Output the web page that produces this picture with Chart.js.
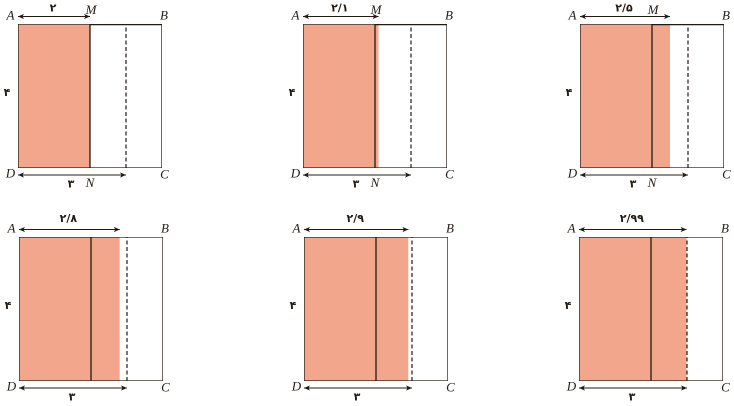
<!DOCTYPE html>
<html>
<head>
<meta charset="utf-8">
<script src="https://cdn.jsdelivr.net/npm/chart.js@4.4.1/dist/chart.umd.min.js"></script>
<style>
  html, body { margin: 0; padding: 0; background: #fff; }
  body { width: 734px; height: 406px; position: relative; overflow: hidden; }
  canvas { position: absolute; }
</style>
</head>
<body>
<script>
// widths of the shaded part (AM) in each panel
const shadedWidths = [2, 2.1, 2.5, 2.8, 2.9, 2.99];
const widthLabels = ["۲", "۲/۱", "۲/۵", "۲/۸", "۲/۹", "۲/۹۹"];
const sideValue = 4;          // AD = AB
const splitValue = 2;         // solid line
const dashedValue = 3;        // DN
const sideLabel = "۴";
const bottomLabel = "۳";
const cornerNames = ["A", "B", "C", "D"];
const showMN = [true, true, true, false, false, false];

const FILL = "#F2A78C";
const INK = "#231a13";
const PAD = { left: 16, right: 20, top: 24, bottom: 30 };
const SIZE = 144;

// top-left corner of each square on the page
const rectCorners = [
  [17.5, 24.3], [302.5, 24.3], [579.5, 24.3],
  [18.5, 237.3], [303.5, 237.3], [578.5, 236.8]
];

function arrow(ctx, x1, x2, y) {
  ctx.beginPath();
  ctx.moveTo(x1, y);
  ctx.lineTo(x2, y);
  ctx.stroke();
  const h = 6, w = 2.6;
  ctx.beginPath();
  ctx.moveTo(x1, y); ctx.lineTo(x1 + h, y - w); ctx.lineTo(x1 + h - 1.5, y); ctx.lineTo(x1 + h, y + w); ctx.closePath();
  ctx.moveTo(x2, y); ctx.lineTo(x2 - h, y - w); ctx.lineTo(x2 - h + 1.5, y); ctx.lineTo(x2 - h, y + w); ctx.closePath();
  ctx.fill();
}

const annotate = {
  id: "annotate",
  afterDatasetsDraw(chart, args, opts) {
    const { ctx, scales: { x, y } } = chart;
    const i = opts.index;
    const left = x.getPixelForValue(0), right = x.getPixelForValue(sideValue);
    const top = y.getPixelForValue(sideValue), bottom = y.getPixelForValue(0);
    const split = x.getPixelForValue(splitValue);
    ctx.save();
    ctx.fillStyle = INK;
    ctx.strokeStyle = INK;
    ctx.lineWidth = 1;
    arrow(ctx, left, x.getPixelForValue(shadedWidths[i]), top - 7.5);
    arrow(ctx, left, x.getPixelForValue(dashedValue), bottom + 7);

    ctx.textAlign = "center";
    ctx.textBaseline = "middle";
    ctx.font = 'italic 13px "Liberation Serif", serif';
    ctx.fillText(cornerNames[0], left - 7.5, top - 8);
    ctx.fillText(cornerNames[1], right + 2, top - 8);
    ctx.fillText(cornerNames[2], right + 2.5, bottom + 7);
    ctx.fillText(cornerNames[3], left - 7.5, bottom + 6);
    if (showMN[i]) {
      ctx.fillText("M", split + 1, top - 13.5);
      ctx.fillText("N", split, bottom + 15.5);
    }

    ctx.font = 'bold 11px "DejaVu Sans", sans-serif';
    const mid = (left + x.getPixelForValue(shadedWidths[i])) / 2;
    ctx.fillText(widthLabels[i], mid - 1, top - (i < 3 ? 15.5 : 18));
    ctx.fillText(bottomLabel, (left + x.getPixelForValue(dashedValue)) / 2 - 1, bottom + 16.5);
    ctx.fillText(sideLabel, left - 11, (top + bottom) / 2 - 3);
    ctx.restore();
  }
};

shadedWidths.forEach(function (w, i) {
  const canvas = document.createElement("canvas");
  const cw = SIZE + PAD.left + PAD.right, chh = SIZE + PAD.top + PAD.bottom;
  canvas.width = cw; canvas.height = chh;
  canvas.style.width = cw + "px"; canvas.style.height = chh + "px";
  canvas.style.left = (rectCorners[i][0] - PAD.left) + "px";
  canvas.style.top = (rectCorners[i][1] - PAD.top) + "px";
  document.body.appendChild(canvas);

  const datasets = [
    { // shaded area
      data: [{ x: 0, y: sideValue }, { x: w, y: sideValue }],
      fill: "origin", backgroundColor: FILL, borderWidth: 0, order: 5
    },
    { // dashed line at N
      data: [{ x: dashedValue, y: 0 }, { x: dashedValue, y: sideValue }],
      borderColor: INK, borderWidth: 1.2, borderDash: [4, 2.5], order: 4
    },
    { // solid line at M
      data: [{ x: splitValue, y: 0 }, { x: splitValue, y: sideValue }],
      borderColor: INK, borderWidth: 1.3, order: 3
    },
    { // square
      data: [{ x: 0, y: 0 }, { x: 0, y: sideValue }, { x: sideValue, y: sideValue },
             { x: sideValue, y: 0 }, { x: 0, y: 0 }],
      borderColor: INK, borderWidth: 1.3, order: 2
    }
  ];
  if (showMN[i]) {
    datasets.push({ // heavier top edge M..B
      data: [{ x: splitValue, y: sideValue }, { x: sideValue, y: sideValue }],
      borderColor: INK, borderWidth: 2.4, order: 1
    });
  }

  new Chart(canvas, {
    type: "scatter",
    data: { datasets: datasets.map(d => Object.assign({ showLine: true, pointRadius: 0, tension: 0 }, d)) },
    options: {
      responsive: false,
      animation: false,
      devicePixelRatio: 2,
      layout: { padding: PAD },
      scales: {
        x: { type: "linear", min: 0, max: sideValue, display: false },
        y: { type: "linear", min: 0, max: sideValue, display: false }
      },
      plugins: {
        legend: { display: false },
        tooltip: { enabled: false },
        annotate: { index: i }
      }
    },
    plugins: [annotate]
  });
});
</script>
</body>
</html>
